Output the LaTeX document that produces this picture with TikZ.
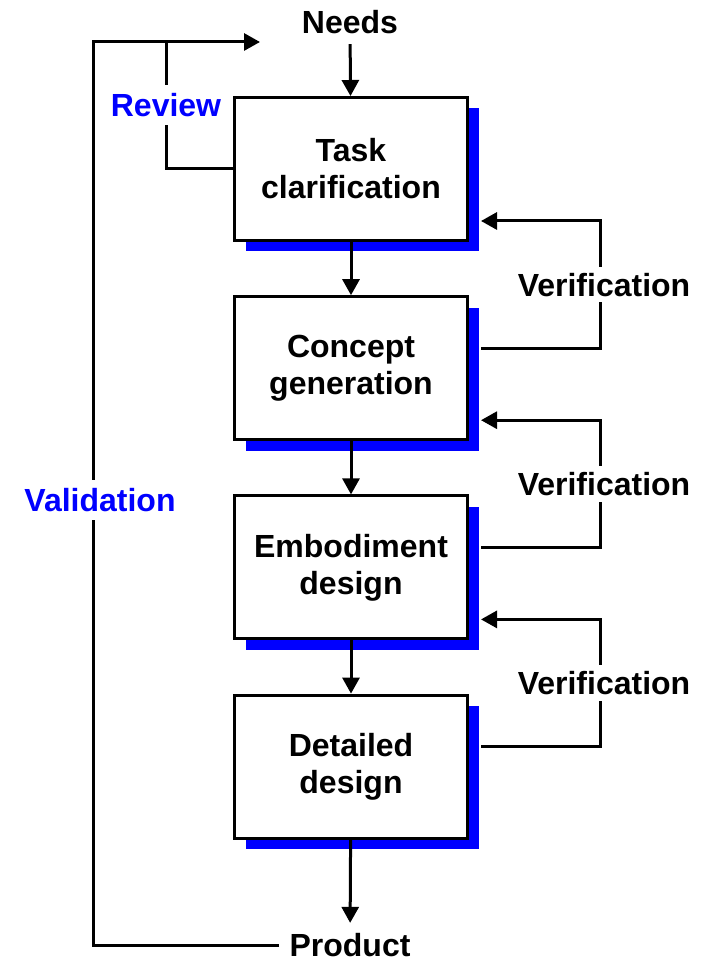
\documentclass[tikz,border=0pt]{standalone}
\usepackage{fontspec}
\setmainfont{Liberation Sans}
\usetikzlibrary{arrows.meta,shadows,positioning}

\tikzset{
  stage/.style={draw, line width=1.5pt, fill=white, minimum width=116.5pt, minimum height=71.5pt,
    align=center, font=\bfseries\fontsize{16}{18.5}\selectfont,
    drop shadow={shadow xshift=5.75pt, shadow yshift=-5.5pt, fill=blue, opacity=1}},
  label/.style={font=\bfseries\fontsize{16}{18.5}\selectfont, inner sep=5pt},
  note/.style={label, text=blue, fill=white, inner sep=4pt},
  verif/.style={label, fill=white, inner sep=3pt, xshift=2pt},
  link/.style={line width=1.5pt},
  flow/.style={link, -{Triangle[length=8pt,width=8.5pt]}}
}

\begin{document}
\begin{tikzpicture}[x=0.5pt, y=-0.5pt]
\useasboundingbox (0,0) rectangle (702,961);

% stages
\node[stage] (task) at (351,169) {Task\\clarification};
\node[stage, below=26.6pt of task] (concept) {Concept\\generation};
\node[stage, below=26.6pt of concept] (embody) {Embodiment\\design};
\node[stage, below=26.6pt of embody] (detail) {Detailed\\design};

\node[label] (needs) at (350,22) {Needs};
\node[label] (product) at (350,945) {Product};

\draw[flow] (needs) -- (task);
\draw[flow] (task) -- (concept);
\draw[flow] (concept) -- (embody);
\draw[flow] (embody) -- (detail);
\draw[flow] (detail) -- (product);

% verification loops
\foreach \upper/\lower in {task/concept, concept/embody, embody/detail}
  \draw[flow] ([xshift=6pt,yshift=10pt]\lower.east) -- ++(59.5pt,0)
    |- node[verif, pos=0.25] {Verification} ([xshift=6pt,yshift=-26pt]\upper.east);

% validation and review
\coordinate (vtop) at (93,42);
\coordinate (vend) at (260,42);
\coordinate (rtop) at (166,42);
\draw[flow] (product.west) -| (vtop) -- (vend);
\draw[link] (task.west) -| (rtop);
\node[note] (review) at (166,105) {Review};
\node[note] (valid) at (100,500) {Validation};

\end{tikzpicture}
\end{document}
